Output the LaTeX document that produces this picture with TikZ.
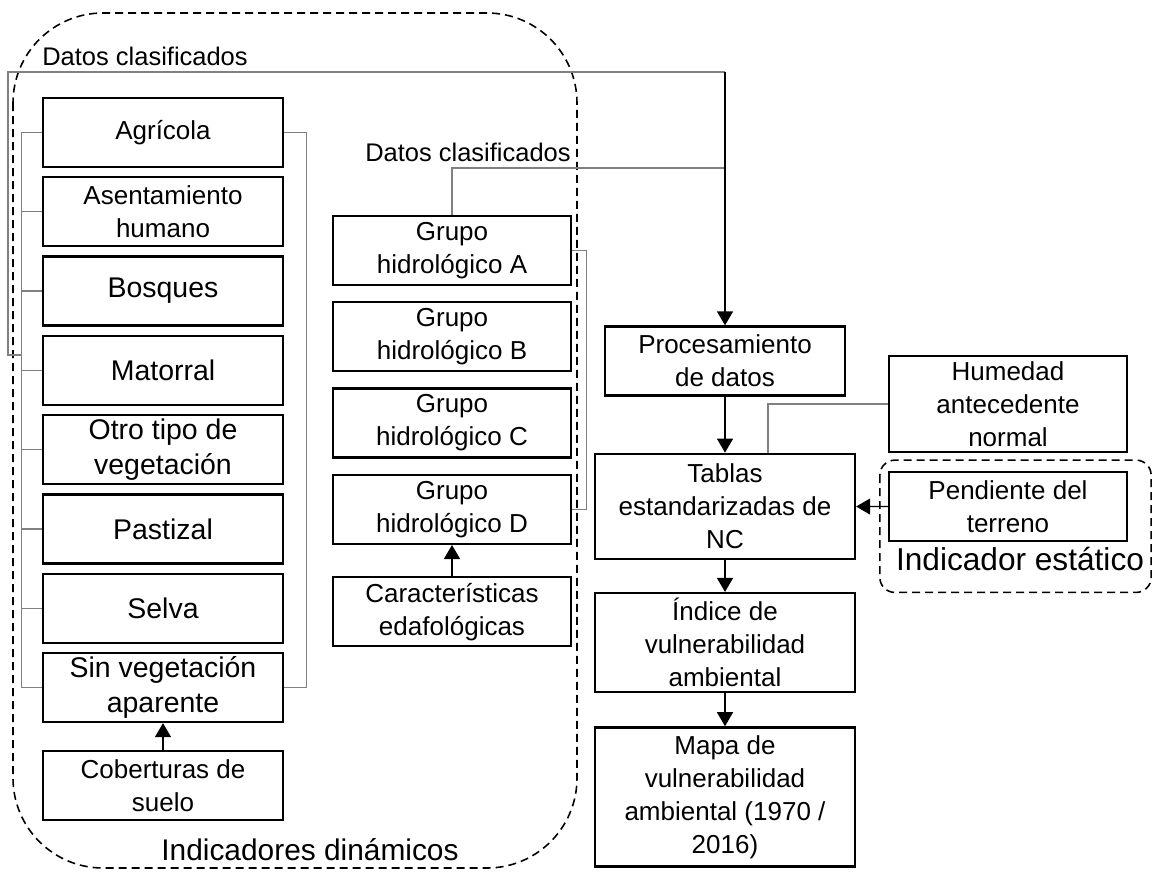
\documentclass[tikz,border=0pt]{standalone}
\usepackage{fontspec}
\setmainfont{Liberation Sans}
\usepackage{tikz}
\usetikzlibrary{arrows.meta,positioning,calc}
\newcommand{\bxfont}{\fontsize{14.8}{18.8}\selectfont}
\newcommand{\bigbxfont}{\fontsize{16.2}{19.5}\selectfont}
\newcommand{\lblfont}{\fontsize{14.5}{17}\selectfont}
\newcommand{\grpfont}{\fontsize{18}{21}\selectfont}
\tikzset{
  box/.style={draw, line width=1.3pt, align=center, font=\bxfont,
              inner sep=2pt, minimum width=48mm, minimum height=13.8mm},
  big/.style={box, font=\bigbxfont},
  soil/.style={box, minimum width=47.6mm},
  wide/.style={box, minimum width=52mm},
  link/.style={draw=gray, line width=0.7pt},
  flow/.style={-{Triangle[length=2.8mm, width=3.2mm]}, line width=0.75pt},
  group/.style={line width=0.9pt, dash pattern=on 1.6mm off 1mm},
  lbl/.style={font=\lblfont, inner sep=0pt},
  grplbl/.style={font=\grpfont, inner sep=0pt},
}

\begin{document}
\begin{tikzpicture}[x=1mm, y=1mm, node distance=1.6mm]
  \useasboundingbox (0,0) rectangle (230.4,-174.6);
  % land cover column
  \node[box] (agri) at (32.6,-26.5) {Agrícola};
  \node[box, below=of agri] (asent) {Asentamiento\\humano};
  \node[big, below=of asent] (bosq) {Bosques};
  \node[big, below=of bosq] (mato) {Matorral};
  \node[big, below=of mato] (otro) {Otro tipo de\\vegetación};
  \node[big, below=of otro] (pas) {Pastizal};
  \node[big, below=of pas] (selva) {Selva};
  \node[big, below=of selva] (sinveg) {Sin vegetación\\aparente};
  \node[box, below=5.4mm of sinveg] (cober) {Coberturas de\\suelo};
  % soil column
  \node[soil] (grpA) at (90.4,-50.1) {Grupo\\hidrológico A};
  \node[soil, below=3mm of grpA] (grpB) {Grupo\\hidrológico B};
  \node[soil, below=3mm of grpB] (grpC) {Grupo\\hidrológico C};
  \node[soil, below=3mm of grpC] (grpD) {Grupo\\hidrológico D};
  \node[soil, below=6.2mm of grpD] (carac) {Características\\edafológicas};
  % processing column
  \node[box] (proc) at (145,-72.2) {Procesamiento\\de datos};
  \node[wide, minimum height=21mm, below=11.2mm of proc] (tablas)
    {Tablas\\estandarizadas de\\NC};
  \node[wide, minimum height=19.8mm, below=6.4mm of tablas] (indice)
    {Índice de\\vulnerabilidad\\ambiental};
  \node[wide, minimum height=27.8mm, below=6.6mm of indice] (mapa)
    {Mapa de\\vulnerabilidad\\ambiental (1970 /\\2016)};
  % static indicator
  \node[soil, minimum height=19.2mm] (humedad) at (201.6,-80.8)
    {Humedad\\antecedente\\normal};
  \node[soil, below=3.6mm of humedad] (pend) {Pendiente del\\terreno};
  \node[grplbl, anchor=base] (estlbl) at (204,-114) {Indicador estático};
  \draw[group, rounded corners=3mm] ($(pend.north west)+(-1.6,2.2)$)
    rectangle ($(pend.south east)+(4.6,-10)$);
  % dynamic indicators
  \draw[group, rounded corners=18mm] (2.6,-2.6) rectangle (115.4,-173.6);
  \node[grplbl, font=\fontsize{17}{20}\selectfont, anchor=base] (dinlbl)
    at (62,-172) {Indicadores dinámicos};
  % brackets
  \draw[link] (agri.west) -- ++(-4,0) coordinate (lb) |- (sinveg.west);
  \foreach \n in {asent,bosq,mato,otro,pas,selva}
    \draw[link] (\n.west) -- (\n.west -| lb);
  \draw[link] (agri.east) -- ++(4.4,0) |- (sinveg.east);
  \draw[link] (grpA.east) -- ++(2.8,0) |- (grpD.east);
  % datos clasificados
  \coordinate (lowl) at (1.6,-71);
  \coordinate (top) at (proc.north |- 0,-14.4);
  \coordinate (mid) at (proc.north |- 0,-33.6);
  \node[lbl, anchor=base west] (dc1) at (8.4,-13) {Datos clasificados};
  \node[lbl, anchor=base east] (dc2) at (114.2,-32.2) {Datos clasificados};
  \draw[link] (lb |- lowl) -- (lowl) |- (top);
  \draw[link] (grpA.north) |- (mid);
  \draw[flow] (top) -- (proc.north);
  \draw[link] (humedad.west) -| ($(tablas.north)+(8.6,0)$);
  % flow
  \draw[flow] (proc) -- (tablas);
  \draw[flow] (tablas) -- (indice);
  \draw[flow] (indice) -- (mapa);
  \draw[flow] (pend) -- (tablas);
  \draw[flow] (cober) -- (sinveg);
  \draw[flow] (carac) -- (grpD);
\end{tikzpicture}
\end{document}
